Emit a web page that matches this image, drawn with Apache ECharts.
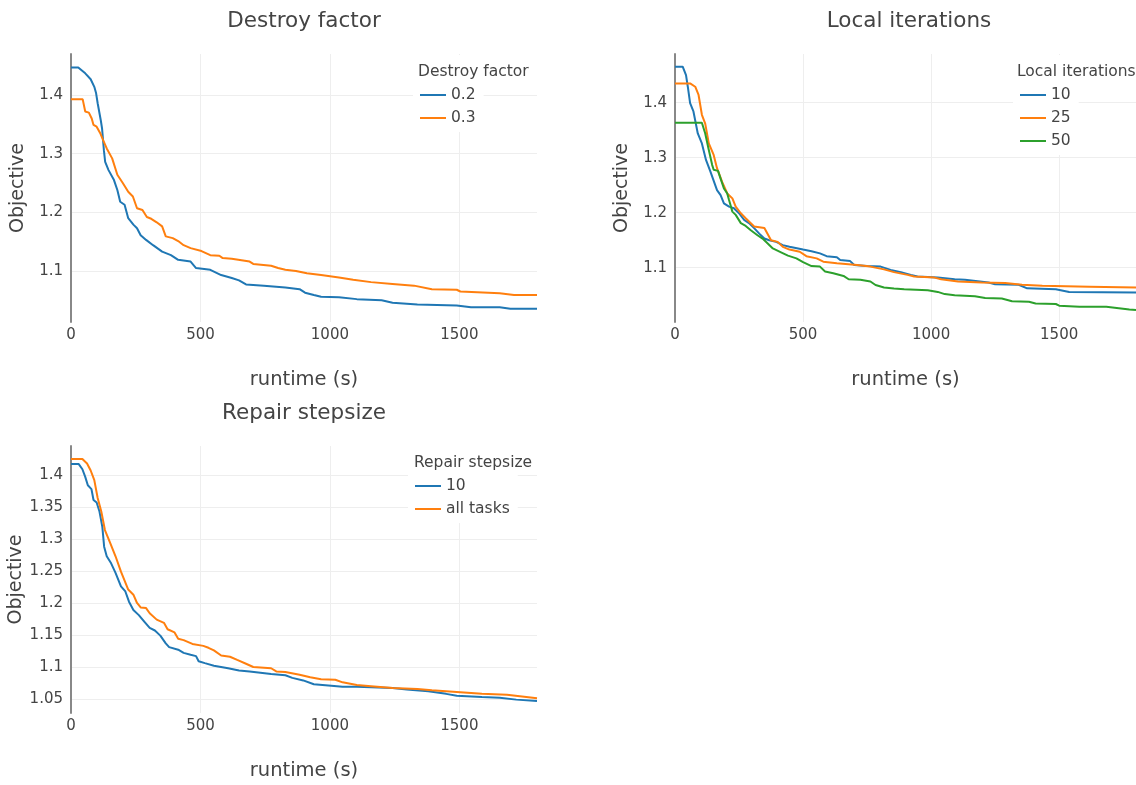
<!DOCTYPE html>
<html>
<head>
<meta charset="utf-8">
<script src="https://cdn.jsdelivr.net/npm/echarts@6/dist/echarts.min.js"></script>
<style>
html,body{margin:0;padding:0;background:#fff;}
#chart{width:1136px;height:785px;}
</style>
</head>
<body>
<div id="chart"></div>
<script>
// ---- Data: [runtime (s), objective] ----
const destroy02 = [[0,1.447],[28,1.447],[55,1.437],[76,1.427],[90,1.414],[97,1.403],[103,1.386],[115,1.357],[120,1.343],[127,1.306],[132,1.286],[145,1.272],[166,1.255],[179,1.238],[190,1.218],[207,1.213],[221,1.190],[241,1.179],[255,1.173],[269,1.161],[290,1.153],[317,1.144],[352,1.133],[386,1.127],[414,1.119],[462,1.116],[483,1.105],[538,1.102],[580,1.093],[621,1.088],[649,1.084],[676,1.077],[745,1.075],[828,1.072],[883,1.069],[904,1.063],[938,1.059],[966,1.056],[1035,1.055],[1104,1.052],[1200,1.050],[1242,1.046],[1338,1.043],[1490,1.041],[1545,1.038],[1656,1.038],[1697,1.0355],[1800,1.0355]];
const destroy03 = [[0,1.393],[45,1.393],[55,1.372],[69,1.370],[80,1.360],[87,1.349],[99,1.346],[113,1.335],[124,1.323],[138,1.309],[159,1.292],[179,1.264],[200,1.250],[221,1.235],[239,1.227],[255,1.207],[276,1.204],[293,1.192],[310,1.189],[331,1.183],[352,1.176],[366,1.159],[393,1.156],[414,1.151],[435,1.144],[462,1.139],[504,1.134],[538,1.127],[573,1.126],[586,1.122],[621,1.121],[690,1.116],[704,1.112],[773,1.109],[800,1.105],[828,1.102],[869,1.100],[911,1.096],[966,1.093],[1035,1.089],[1090,1.085],[1159,1.081],[1242,1.078],[1325,1.075],[1394,1.069],[1490,1.068],[1504,1.065],[1656,1.062],[1711,1.059],[1800,1.059]];

const local10 = [[0,1.4655],[30,1.4655],[43,1.450],[50,1.429],[59,1.399],[72,1.384],[89,1.344],[105,1.326],[121,1.296],[138,1.275],[164,1.241],[178,1.232],[191,1.217],[211,1.211],[230,1.208],[250,1.199],[270,1.187],[289,1.181],[309,1.172],[329,1.162],[349,1.153],[368,1.150],[395,1.147],[421,1.141],[447,1.138],[500,1.133],[533,1.130],[566,1.126],[592,1.121],[632,1.119],[645,1.114],[684,1.112],[700,1.105],[750,1.103],[803,1.102],[842,1.096],[882,1.092],[921,1.087],[947,1.084],[1026,1.082],[1092,1.079],[1132,1.078],[1224,1.073],[1250,1.070],[1342,1.069],[1375,1.0625],[1487,1.061],[1539,1.056],[1800,1.055]];
const local25 = [[0,1.435],[59,1.435],[79,1.429],[92,1.414],[105,1.378],[118,1.362],[132,1.326],[151,1.305],[164,1.281],[184,1.256],[204,1.235],[224,1.226],[237,1.211],[257,1.199],[276,1.190],[309,1.175],[349,1.172],[375,1.150],[401,1.147],[421,1.138],[447,1.133],[487,1.129],[513,1.121],[553,1.117],[579,1.111],[632,1.108],[711,1.105],[763,1.102],[816,1.097],[855,1.092],[908,1.087],[934,1.084],[1013,1.082],[1039,1.079],[1105,1.075],[1197,1.073],[1289,1.072],[1355,1.069],[1434,1.067],[1618,1.0655],[1800,1.064]];
const local50 = [[0,1.3636],[105,1.3636],[118,1.344],[132,1.314],[145,1.287],[151,1.278],[168,1.276],[178,1.262],[191,1.244],[204,1.235],[211,1.223],[224,1.202],[237,1.196],[257,1.181],[276,1.176],[296,1.168],[322,1.159],[342,1.153],[362,1.144],[382,1.135],[414,1.128],[441,1.122],[474,1.117],[500,1.110],[533,1.103],[566,1.102],[586,1.093],[618,1.090],[658,1.085],[678,1.079],[724,1.078],[763,1.075],[783,1.0685],[816,1.064],[855,1.062],[895,1.061],[987,1.059],[1026,1.056],[1053,1.052],[1092,1.050],[1171,1.048],[1211,1.045],[1276,1.044],[1316,1.039],[1382,1.038],[1408,1.035],[1487,1.034],[1500,1.031],[1579,1.029],[1684,1.029],[1774,1.024],[1800,1.023]];

const repair10 = [[0,1.417],[30,1.417],[44,1.409],[55,1.397],[65,1.384],[79,1.378],[87,1.361],[99,1.357],[110,1.343],[121,1.319],[128,1.288],[138,1.273],[155,1.262],[172,1.247],[193,1.226],[210,1.218],[224,1.202],[241,1.189],[262,1.181],[283,1.171],[304,1.161],[324,1.157],[345,1.149],[366,1.137],[379,1.131],[414,1.127],[435,1.122],[462,1.119],[483,1.117],[493,1.109],[517,1.106],[552,1.102],[607,1.098],[649,1.0945],[690,1.093],[773,1.089],[828,1.087],[855,1.083],[897,1.079],[938,1.073],[994,1.071],[1049,1.069],[1104,1.069],[1242,1.067],[1297,1.065],[1380,1.062],[1449,1.058],[1490,1.055],[1587,1.053],[1656,1.052],[1720,1.049],[1800,1.047]];
const repairAll = [[0,1.425],[44,1.425],[62,1.418],[76,1.407],[90,1.392],[103,1.364],[117,1.343],[131,1.314],[152,1.293],[172,1.273],[193,1.249],[221,1.221],[241,1.213],[255,1.200],[269,1.193],[290,1.192],[304,1.184],[331,1.174],[359,1.169],[373,1.159],[400,1.154],[414,1.144],[435,1.142],[469,1.136],[511,1.133],[531,1.130],[552,1.126],[580,1.118],[614,1.116],[642,1.111],[676,1.105],[704,1.100],[773,1.098],[793,1.093],[828,1.092],[883,1.088],[924,1.084],[966,1.081],[1021,1.080],[1049,1.076],[1104,1.072],[1159,1.070],[1242,1.067],[1338,1.0655],[1394,1.0635],[1490,1.061],[1587,1.058],[1684,1.0565],[1800,1.051]];

const panelTitles = ['Destroy factor', 'Local iterations', 'Repair stepsize'];
const legendNames = [['0.2','0.3'], ['10','25','50'], ['10','all tasks']];
const xTitle = 'runtime (s)';
const yTitle = 'Objective';

// ---- Styling ----
const FONT = 'DejaVu Sans, Verdana, sans-serif';
const TXT = '#444';
const C = ['#1f77b4', '#ff7f0e', '#2ca02c'];

const grids = [
  {left: 71, top: 54, width: 466, height: 268},
  {left: 675, top: 54, width: 468, height: 268},
  {left: 71, top: 446, width: 466, height: 267}
];
const yRanges = [[1.013, 1.470], [1.0013, 1.4885], [1.0281, 1.4453]];
const ySplit = [5, 5, 8];

function xAxisFor(i) {
  return {
    type: 'value', gridIndex: i, min: 0, max: 1800, interval: 500,
    name: xTitle, nameLocation: 'middle', nameGap: 48,
    nameTextStyle: {fontFamily: FONT, fontSize: 19.5, color: TXT},
    axisLine: {show: false}, axisTick: {show: false},
    axisLabel: {fontFamily: FONT, fontSize: 15, color: TXT, margin: 6, showMaxLabel: false,
      formatter: function (v) { return String(v); }},
    splitLine: {show: true, showMinLine: false, showMaxLine: false, lineStyle: {color: '#eee', width: 1}}
  };
}
function yAxisFor(i) {
  return {
    type: 'value', gridIndex: i, min: yRanges[i][0], max: yRanges[i][1], splitNumber: ySplit[i],
    name: yTitle, nameLocation: 'middle', nameGap: 43,
    nameTextStyle: {fontFamily: FONT, fontSize: 19, color: TXT},
    axisLine: {show: true, lineStyle: {color: '#888', width: 2}}, axisTick: {show: false},
    axisLabel: {fontFamily: FONT, fontSize: 15, color: TXT, margin: 8, showMinLabel: false, showMaxLabel: false},
    splitLine: {show: true, showMinLine: false, showMaxLine: false, lineStyle: {color: '#eee', width: 1}}
  };
}
function line(name, data, color, idx) {
  return {
    type: 'line', name: name, data: data, xAxisIndex: idx, yAxisIndex: idx,
    showSymbol: false, symbol: 'none', lineStyle: {width: 2, color: color}, itemStyle: {color: color},
    emphasis: {disabled: true}, z: 3
  };
}
function legendFor(i, left, top, padTop) {
  return {
    orient: 'vertical', left: left, top: top, padding: [padTop, 8, 6, 7],
    backgroundColor: '#fff', data: legendNames[i], icon: 'rect', itemWidth: 26, itemHeight: 2,
    itemGap: 7, selectedMode: false,
    textStyle: {fontFamily: FONT, fontSize: 15.5, color: TXT}
  };
}
function titleAt(text, x, y, size, align) {
  return {
    text: text, left: x, top: y, padding: 0, textAlign: align, textVerticalAlign: 'middle',
    textStyle: {fontFamily: FONT, fontSize: size, fontWeight: 'normal', color: TXT}, z: 10
  };
}

const option = {
  animation: false,
  backgroundColor: '#fff',
  title: [
    titleAt(panelTitles[0], 304, 21, 21.5, 'center'),
    titleAt(panelTitles[1], 909, 21, 21.5, 'center'),
    titleAt(panelTitles[2], 304, 413, 21.5, 'center'),
    titleAt(panelTitles[0], 418, 72, 15.5, 'left'),
    titleAt(panelTitles[1], 1017, 72, 15.5, 'left'),
    titleAt(panelTitles[2], 414, 463, 15.5, 'left')
  ],
  legend: [legendFor(0, 413, 55, 32), legendFor(1, 1013, 55, 32), legendFor(2, 408, 446, 32)],
  grid: grids,
  xAxis: [xAxisFor(0), xAxisFor(1), xAxisFor(2)],
  yAxis: [yAxisFor(0), yAxisFor(1), yAxisFor(2)],
  series: [
    line('0.2', destroy02, C[0], 0),
    line('0.3', destroy03, C[1], 0),
    line('10', local10, C[0], 1),
    line('25', local25, C[1], 1),
    line('50', local50, C[2], 1),
    line('10', repair10, C[0], 2),
    line('all tasks', repairAll, C[1], 2)
  ]
};
const chart = echarts.init(document.getElementById('chart'), null, {renderer: 'canvas'});
chart.setOption(option);
</script>
</body>
</html>
